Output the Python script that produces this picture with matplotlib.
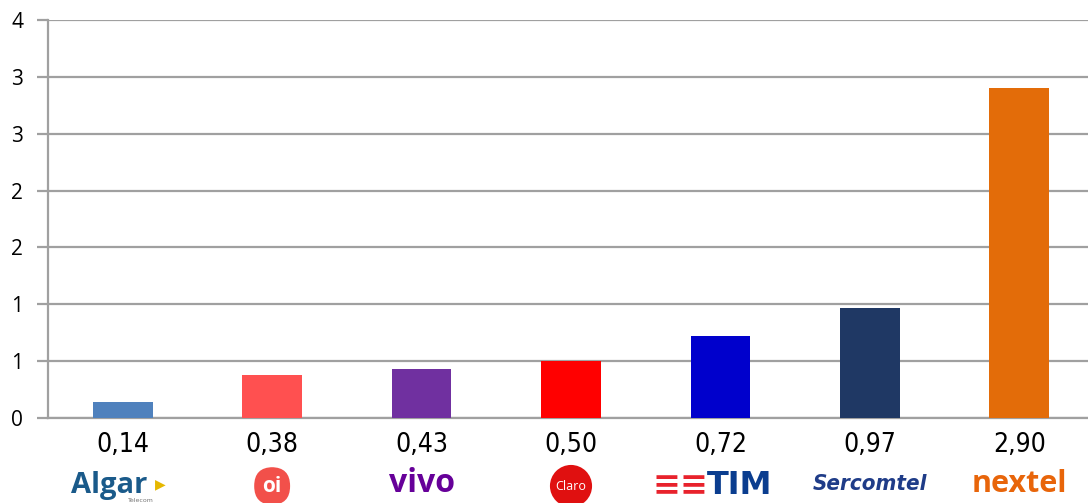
import numpy as np
import matplotlib.pyplot as plt
from matplotlib.ticker import FuncFormatter, MultipleLocator
from matplotlib.transforms import blended_transform_factory

operators = ['Algar', 'oi', 'vivo', 'Claro', 'TIM', 'Sercomtel', 'nextel']
values = [0.14, 0.38, 0.43, 0.50, 0.72, 0.97, 2.90]
value_labels = ['0,14', '0,38', '0,43', '0,50', '0,72', '0,97', '2,90']
bar_colors = ['#4f81bd', '#ff5050', '#7030a0', '#ff0000', '#0000cc', '#1f3864', '#e36c09']

fig = plt.figure(figsize=(10.88, 5.03), dpi=100)
ax = fig.add_axes([48 / 1088, 85 / 503, 1046 / 1088, 398 / 503])

x = np.arange(len(operators))
ax.bar(x, values, width=0.4, color=bar_colors, zorder=3)

ax.set_xlim(-0.5, len(operators) - 0.5)
ax.set_ylim(0, 3.5)
ax.yaxis.set_major_locator(MultipleLocator(0.5))
ax.yaxis.set_major_formatter(FuncFormatter(lambda v, p: str(int(np.floor(v + 0.5)))))
ax.grid(axis='y', color='#a0a0a0', linewidth=1.6, zorder=0)
ax.set_xticks([])
ax.tick_params(axis='y', length=8, width=1.6, color='#a0a0a0', labelsize=15, pad=10)
for lab in ax.get_yticklabels():
    lab.set_fontfamily('Open Sans')
for s in ['top', 'right']:
    ax.spines[s].set_visible(False)
for s in ['left', 'bottom']:
    ax.spines[s].set_color('#a0a0a0')
    ax.spines[s].set_linewidth(1.6)

tr = blended_transform_factory(ax.transData, fig.transFigure)
for xi, lab in zip(x, value_labels):
    ax.text(xi, 1 - 445 / 503, lab, transform=tr, ha='center', va='center',
            fontsize=19, family='DejaVu Sans', fontstretch='condensed')

ly = 1 - 486 / 503
# logo-like labels
ax.text(x[0] - 0.09, ly, 'Algar', transform=tr, ha='center', va='center',
        fontsize=21, fontweight='bold', color='#1a5a8a', family='Open Sans')
ax.text(x[0] + 0.25, ly + 0.004, '\u25B6', transform=tr, ha='center', va='center',
        fontsize=10, color='#e6b800')
ax.text(x[0] + 0.12, 1 - 501 / 503, 'Telecom', transform=tr, ha='center', va='center',
        fontsize=4.5, color='#777777')
ax.text(x[1], ly, 'oi', transform=tr, ha='center', va='center',
        fontsize=15, fontweight='bold', color='white', family='Open Sans',
        bbox=dict(boxstyle='round,pad=0.4,rounding_size=0.9', fc='#f2504a', ec='none'))
ax.text(x[2], ly + 0.004, 'vivo', transform=tr, ha='center', va='center',
        fontsize=23, fontweight='bold', color='#660099', family='Open Sans')
ax.text(x[3], ly, 'Claro', transform=tr, ha='center', va='center',
        fontsize=9, color='white', family='Open Sans',
        bbox=dict(boxstyle='circle,pad=0.45', fc='#e01010', ec='none'))
ax.text(x[4] - 0.27, ly, '\u2261\u2261', transform=tr, ha='center', va='center',
        fontsize=24, fontweight='bold', color='#e8222c')
ax.text(x[4] + 0.13, ly, 'TIM', transform=tr, ha='center', va='center',
        fontsize=23, fontweight='bold', color='#0a3d8f', family='DejaVu Sans')
ax.text(x[5], ly + 0.003, 'Sercomtel', transform=tr, ha='center', va='center',
        fontsize=16, fontweight='bold', fontstyle='italic', color='#1f3c88',
        family='DejaVu Sans', fontstretch='condensed')
ax.text(x[6], ly + 0.003, 'nextel', transform=tr, ha='center', va='center',
        fontsize=22, fontweight='bold', color='#e8650a', family='Open Sans')

fig.savefig('out.png', dpi=100)
